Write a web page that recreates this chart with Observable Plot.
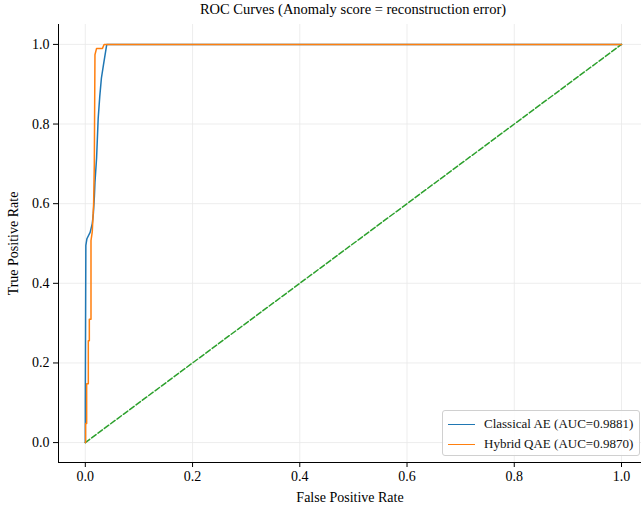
<!DOCTYPE html>
<html>
<head>
<meta charset="utf-8">
<script src="https://cdn.jsdelivr.net/npm/d3@7"></script>
<script src="https://cdn.jsdelivr.net/npm/@observablehq/plot@0.6"></script>
<style>
  html, body { margin: 0; padding: 0; background: #fff; }
  #wrap { position: relative; width: 641px; height: 511px; font-family: "Liberation Serif", serif; }
  #chart svg, #chart svg text { font-family: "Liberation Serif", serif !important; }
  #chart svg text { fill: #000; }
  #title { position: absolute; top: 1px; left: 58px; width: 590px; text-align: center; font-size: 14.5px; color: #000; }
  #legend { position: absolute; left: 442px; top: 410px; width: 196px; height: 44px; border: 1px solid #d0d0d0; border-radius: 3px; background: rgba(255,255,255,0.85); font-size: 13px; color: #111; }
  .row { position: absolute; left: 5px; height: 20px; display: flex; align-items: center; }
  .sw { width: 27px; height: 0; border-top: 1.5px solid; margin-right: 9px; }
</style>
</head>
<body>
<div id="wrap">
  <div id="chart"></div>
  <div id="title">ROC Curves (Anomaly score = reconstruction error)</div>
  <div id="legend"></div>
</div>
<script>
// Series names and colours
const seriesNames = ["Classical AE (AUC=0.9881)", "Hybrid QAE (AUC=0.9870)"];
const seriesColors = ["#1f77b4", "#ff7f0e"];

// Classical AE ROC curve
const classicalFpr = [0, 0, 0.001, 0.003, 0.006, 0.009, 0.013, 0.015, 0.017, 0.018, 0.021, 0.024, 0.027, 0.030, 0.034, 0.040, 1.0];
const classicalTpr = [0, 0.10, 0.495, 0.512, 0.52, 0.528, 0.55, 0.575, 0.62, 0.654, 0.714, 0.814, 0.87, 0.915, 0.95, 1.0, 1.0];

// Hybrid QAE ROC curve
const hybridFpr = [0, 0.0006, 0.0006, 0.0025, 0.0025, 0.0056, 0.0056, 0.0075, 0.0075, 0.0106, 0.0106, 0.013, 0.0155, 0.0168, 0.018, 0.021, 0.032, 0.035, 1.0];
const hybridTpr = [0, 0.0, 0.048, 0.048, 0.148, 0.148, 0.256, 0.256, 0.31, 0.31, 0.507, 0.53, 0.60, 0.70, 0.974, 0.99, 0.99, 1.0, 1.0];

// Chance diagonal
const chanceFpr = [0, 1];
const chanceTpr = [0, 1];

// Axis ticks and domains
const xTicks = [0, 0.2, 0.4, 0.6, 0.8, 1.0];
const yTicks = [0, 0.2, 0.4, 0.6, 0.8, 1.0];
const xDomain = [-0.05, 1.0373];
const yDomain = [-0.05, 1.05];

const classical = classicalFpr.map((f, i) => ({fpr: f, tpr: classicalTpr[i]}));
const hybrid = hybridFpr.map((f, i) => ({fpr: f, tpr: hybridTpr[i]}));
const chance = chanceFpr.map((f, i) => ({fpr: f, tpr: chanceTpr[i]}));

const font = '"Liberation Serif", serif';

const chart = Plot.plot({
  width: 641,
  height: 511,
  marginLeft: 58,
  marginRight: 0,
  marginTop: 24,
  marginBottom: 49,
  style: {fontFamily: font, fontSize: "13.5px", color: "#000", background: "#fff", overflow: "visible"},
  x: {domain: xDomain},
  y: {domain: yDomain},
  marks: [
    Plot.gridX(xTicks, {stroke: "#e8e8e8", strokeOpacity: 1, strokeWidth: 0.8}),
    Plot.gridY(yTicks, {stroke: "#e8e8e8", strokeOpacity: 1, strokeWidth: 0.8}),
    Plot.line(chance, {x: "fpr", y: "tpr", stroke: "#2ca02c", strokeWidth: 1.5, strokeDasharray: "5.5,2.4"}),
    Plot.line(classical, {x: "fpr", y: "tpr", stroke: seriesColors[0], strokeWidth: 1.5}),
    Plot.line(hybrid, {x: "fpr", y: "tpr", stroke: seriesColors[1], strokeWidth: 1.5}),
    Plot.ruleX([xDomain[0]], {stroke: "#000", strokeWidth: 1}),
    Plot.ruleY([yDomain[0]], {stroke: "#000", strokeWidth: 1}),
    Plot.axisX(xTicks, {tickFormat: d3.format(".1f"), tickSize: 5, tickPadding: 4, fontSize: 14,
      label: "False Positive Rate", labelAnchor: "center", labelArrow: "none", labelOffset: 39}),
    Plot.axisY(yTicks, {tickFormat: d3.format(".1f"), tickSize: 5, tickPadding: 4, fontSize: 14,
      label: "True Positive Rate", labelAnchor: "center", labelArrow: "none", labelOffset: 50})
  ]
});
document.getElementById("chart").appendChild(chart);

const legend = document.getElementById("legend");
seriesNames.forEach((name, i) => {
  const row = document.createElement("div");
  row.className = "row";
  row.style.top = (3 + i * 20) + "px";
  const sw = document.createElement("div");
  sw.className = "sw";
  sw.style.borderTopColor = seriesColors[i];
  const t = document.createElement("span");
  t.textContent = name;
  row.appendChild(sw);
  row.appendChild(t);
  legend.appendChild(row);
});
</script>
</body>
</html>
